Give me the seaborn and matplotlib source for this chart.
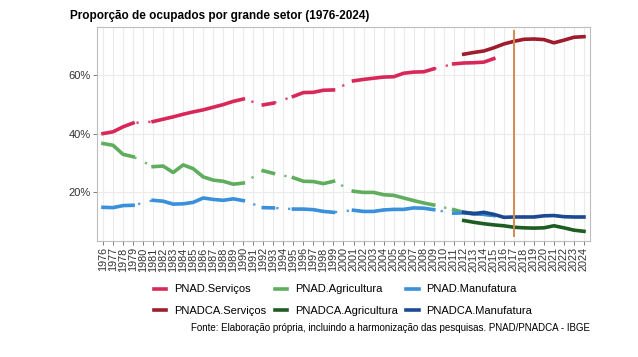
import pandas as pd
import matplotlib.pyplot as plt
import seaborn as sns
from matplotlib.lines import Line2D

# dados (percentual de ocupados)
anos_pnad = [1976, 1977, 1978, 1979,
             1981, 1982, 1983, 1984, 1985, 1986, 1987, 1988, 1989, 1990,
             1992, 1993,
             1995, 1996, 1997, 1998, 1999,
             2001, 2002, 2003, 2004, 2005, 2006, 2007, 2008, 2009,
             2011, 2012, 2013, 2014, 2015]
pnad_servicos = [40.0, 40.6, 42.3, 43.6,
                 44.1, 44.9, 45.7, 46.6, 47.4, 48.1, 49.0, 49.9, 51.0, 51.8,
                 49.8, 50.4,
                 52.7, 54.0, 54.1, 54.8, 54.9,
                 58.0, 58.5, 58.9, 59.3, 59.4, 60.6, 61.0, 61.1, 62.1,
                 63.8, 64.1, 64.2, 64.4, 65.6]
pnad_agricultura = [36.6, 36.0, 32.9, 32.1,
                    28.7, 28.9, 26.7, 29.3, 28.0, 25.2, 24.1, 23.7, 22.7, 23.1,
                    27.3, 26.4,
                    24.9, 23.7, 23.6, 22.9, 23.7,
                    20.3, 19.9, 19.9, 19.1, 18.9, 18.0, 17.1, 16.3, 15.6,
                    14.0, 13.1, 12.8, 12.5, 12.1]
pnad_manufatura = [14.8, 14.7, 15.4, 15.5,
                   17.2, 16.9, 15.9, 16.0, 16.5, 18.0, 17.5, 17.2, 17.7, 17.1,
                   14.7, 14.6,
                   14.2, 14.2, 14.0, 13.4, 13.1,
                   13.8, 13.4, 13.4, 13.9, 14.1, 14.1, 14.6, 14.5, 14.0,
                   12.8, 12.9, 12.6, 12.4, 12.0]

anos_pnadca = list(range(2012, 2025))
pnadca_servicos = [67.1, 67.7, 68.2, 69.3, 70.6, 71.5, 72.2, 72.3, 72.1, 71.0, 71.9, 72.9, 73.1]
pnadca_agricultura = [10.3, 9.7, 9.2, 8.8, 8.5, 8.0, 7.8, 7.7, 7.8, 8.5, 7.8, 7.0, 6.6]
pnadca_manufatura = [13.1, 12.6, 13.1, 12.4, 11.4, 11.5, 11.5, 11.5, 11.9, 12.0, 11.6, 11.5, 11.5]

ano_marco = 2017
marco_y = (5, 75)

cores = {
    'PNAD.Serviços': '#D8285A',
    'PNAD.Agricultura': '#5FAE5E',
    'PNAD.Manufatura': '#3A90DA',
    'PNADCA.Serviços': '#9E1C2C',
    'PNADCA.Agricultura': '#1F5C22',
    'PNADCA.Manufatura': '#1C4A92',
}

series = {
    'PNAD.Serviços': (anos_pnad, pnad_servicos),
    'PNAD.Agricultura': (anos_pnad, pnad_agricultura),
    'PNAD.Manufatura': (anos_pnad, pnad_manufatura),
    'PNADCA.Serviços': (anos_pnadca, pnadca_servicos),
    'PNADCA.Agricultura': (anos_pnadca, pnadca_agricultura),
    'PNADCA.Manufatura': (anos_pnadca, pnadca_manufatura),
}

partes = []
for nome, (anos, vals) in series.items():
    d = pd.DataFrame({'ano': anos, 'valor': vals, 'serie': nome})
    d['segmento'] = nome + '_' + (d['ano'].diff() != 1).cumsum().astype(str)
    partes.append(d)
df = pd.concat(partes, ignore_index=True)

plt.rcParams['font.family'] = ['Liberation Sans', 'DejaVu Sans']

fig = plt.figure(figsize=(6.38, 3.57), dpi=100)
ax = fig.add_axes([97 / 638, 1 - 241 / 357, (590 - 97) / 638, (241 - 27) / 357])
ax.set_facecolor('white')

# trechos pontilhados ligando os anos sem pesquisa
sns.lineplot(data=df, x='ano', y='valor', hue='serie', palette=cores, estimator=None,
             linewidth=1.7, linestyle=(0, (1, 4)), alpha=0.85, legend=False, ax=ax, zorder=2)
# trechos contínuos
sns.lineplot(data=df, x='ano', y='valor', hue='serie', units='segmento', palette=cores,
             estimator=None, linewidth=2.6, legend=False, ax=ax, zorder=3)

ax.plot([ano_marco, ano_marco], marco_y, color='#D48A4E', linewidth=1.4, zorder=4)

ax.set_xlim(1975.4, 2024.6)
ax.set_ylim(3.3, 76.4)
ax.set_xticks(range(1976, 2025))
ax.set_xticklabels([str(a) for a in range(1976, 2025)], rotation=90, fontsize=7.8, color='#333333')
ax.set_yticks([20, 40, 60])
ax.set_yticklabels(['20%', '40%', '60%'], fontsize=8, color='#333333')
ax.set_xlabel('')
ax.set_ylabel('')
ax.grid(True, color='#EBEBEB', linewidth=0.8)
ax.set_axisbelow(True)
for s in ax.spines.values():
    s.set_color('#BDBDBD')
    s.set_linewidth(0.8)
ax.tick_params(axis='both', length=3, width=0.6, color='#666666', pad=1.5)

fig.text(70 / 638, 1 - 16 / 357, 'Proporção de ocupados por grande setor (1976-2024)',
         fontsize=8.5, fontweight='bold', va='center', ha='left')

ordem = ['PNAD.Serviços', 'PNADCA.Serviços', 'PNAD.Agricultura',
         'PNADCA.Agricultura', 'PNAD.Manufatura', 'PNADCA.Manufatura']
handles = [Line2D([0], [0], color=cores[n], linewidth=2.6) for n in ordem]
fig.legend(handles, ordem, loc='center', bbox_to_anchor=(343 / 638, 1 - 300 / 357), ncol=3,
           frameon=False, fontsize=8, handlelength=1.1, handletextpad=0.7,
           columnspacing=0.8, labelspacing=1.0)

fig.text(590 / 638, 1 - 328 / 357,
         'Fonte: Elaboração própria, incluindo a harmonização das pesquisas. PNAD/PNADCA - IBGE',
         fontsize=7, ha='right', va='center')

fig.savefig('out.png', dpi=100)
